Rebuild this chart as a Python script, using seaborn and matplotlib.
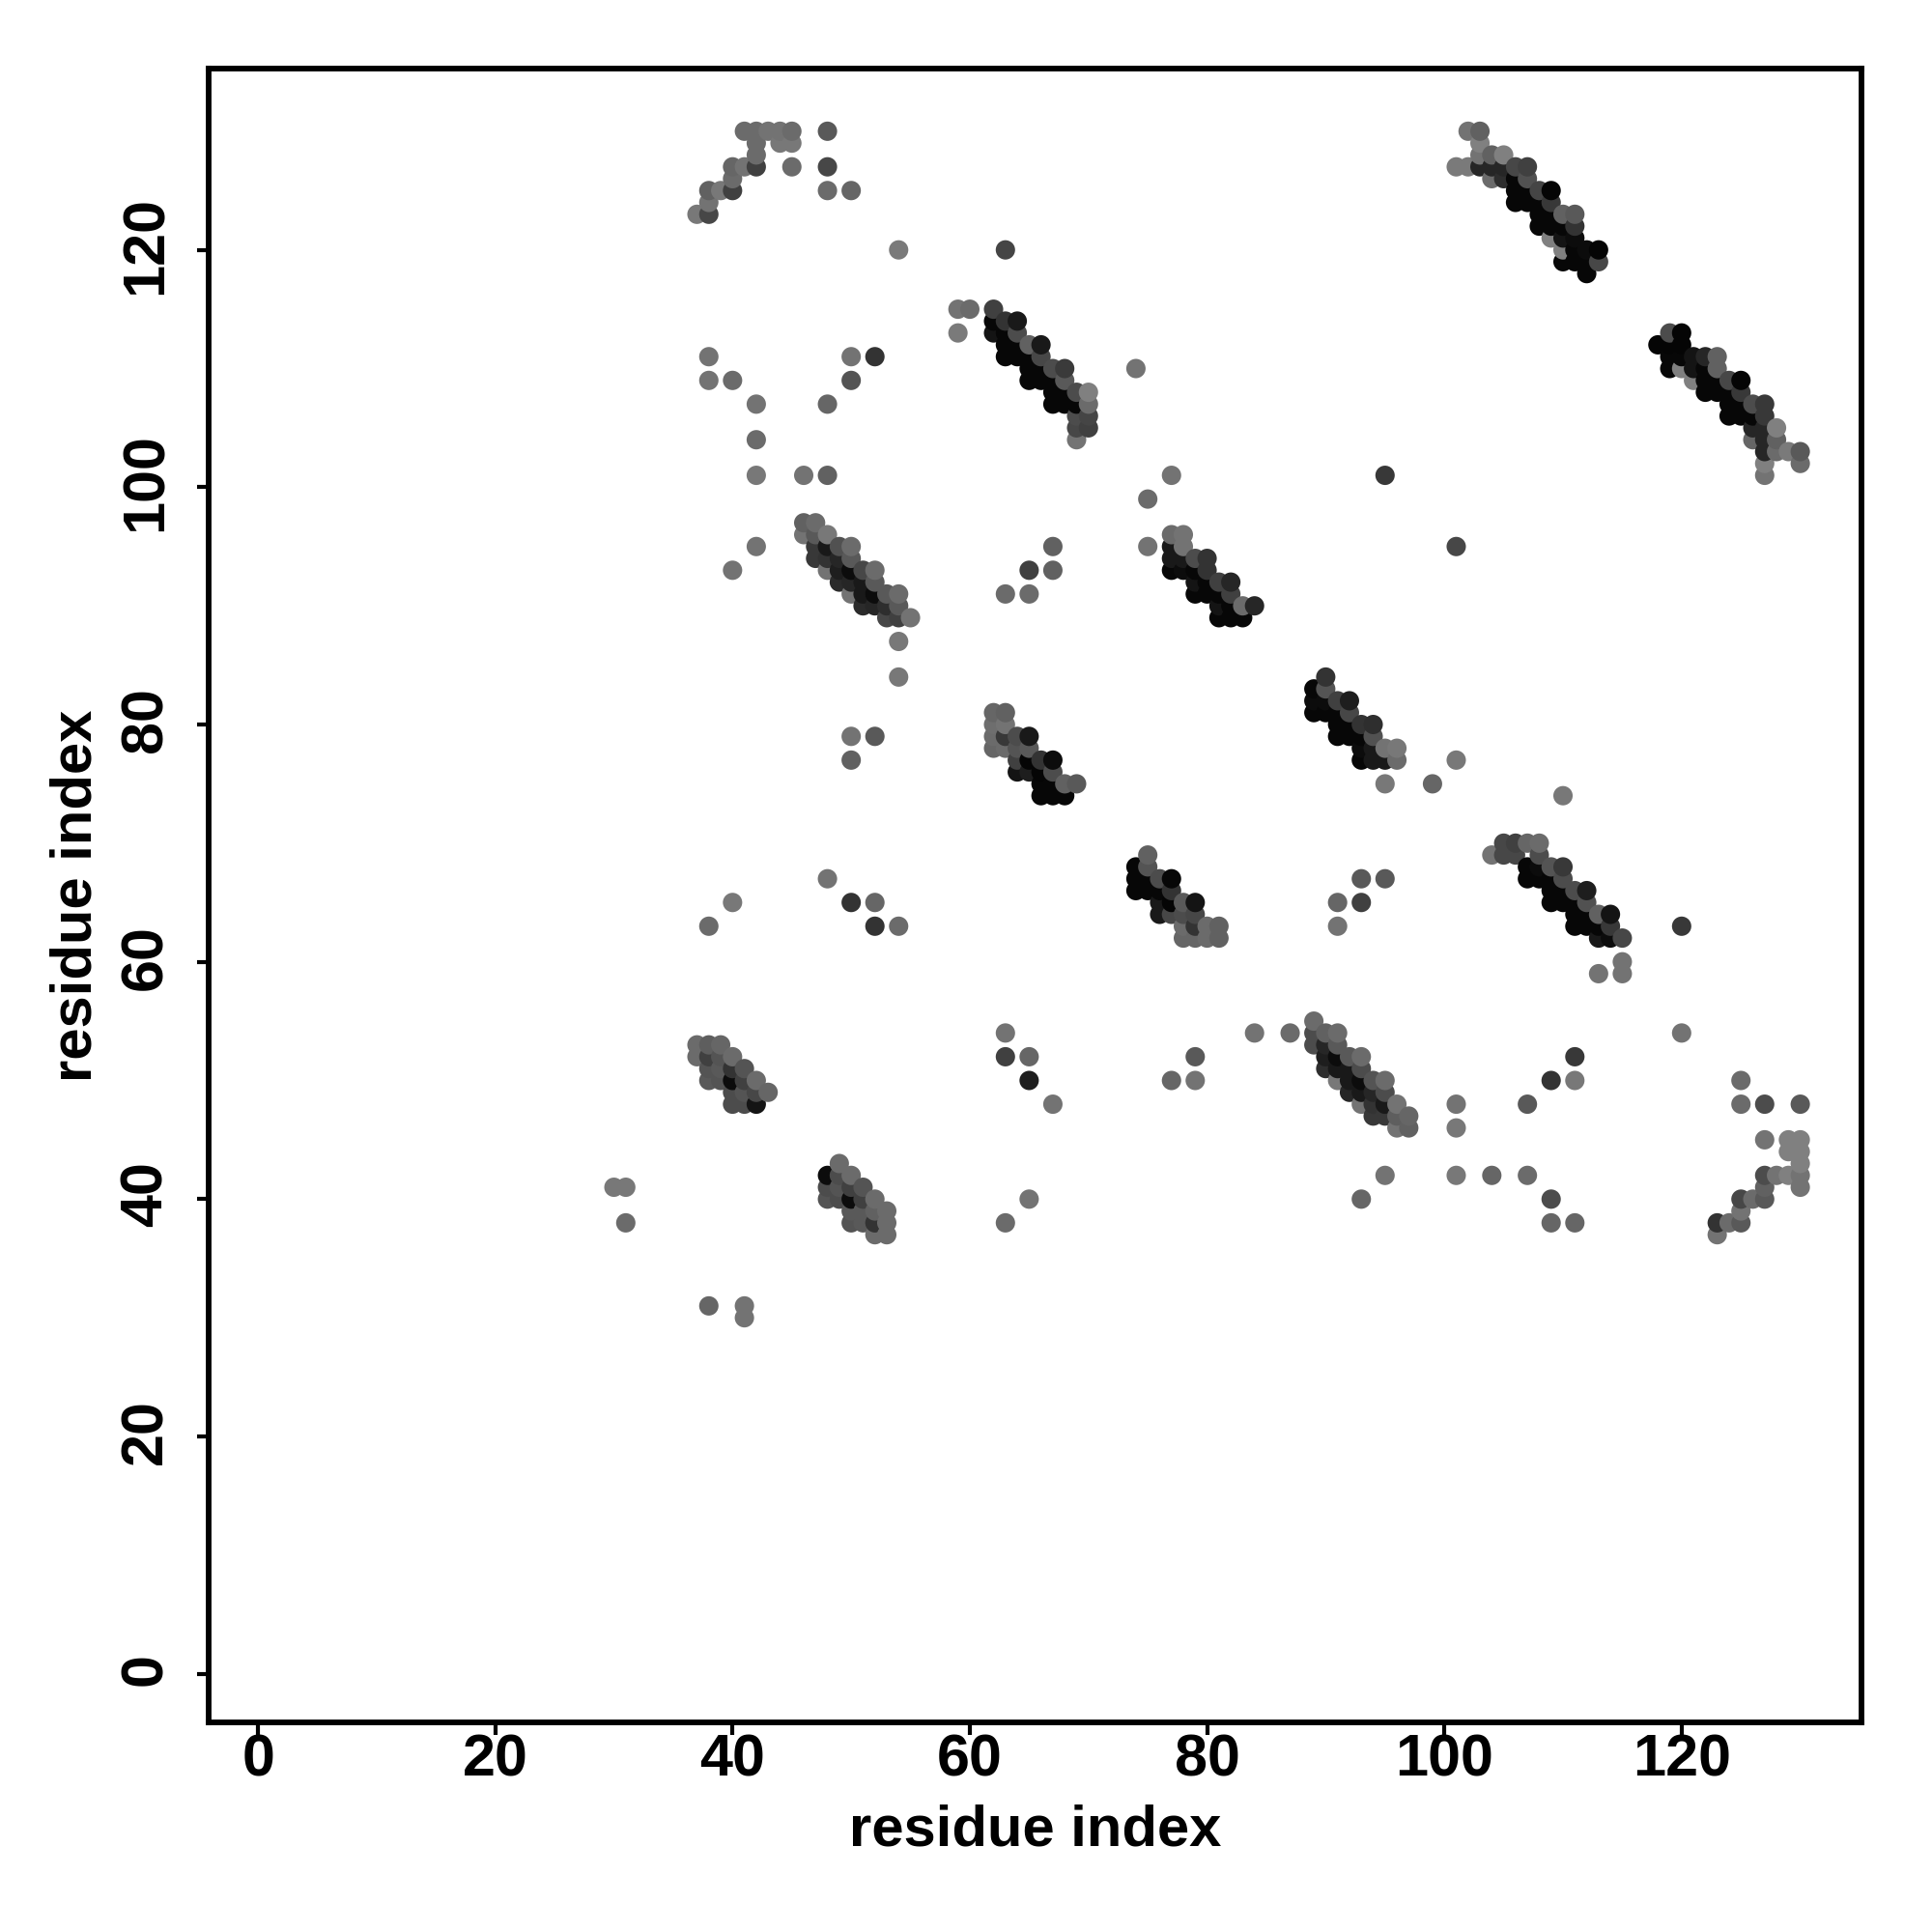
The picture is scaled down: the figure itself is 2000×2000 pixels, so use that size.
import pandas as pd
import matplotlib
matplotlib.use("Agg")
import matplotlib.pyplot as plt
from matplotlib.transforms import ScaledTranslation
import seaborn as sns

# contact map points, one line per row of the map (same layout in all three lists)
res_x = [
    102, 103,
    103,
    103, 104, 105,
    101, 102, 103, 104, 105, 106, 107,
    104, 105, 106, 107,
    106, 107, 108, 109,
    106, 107, 108, 109,
    108, 109, 110, 111,
    108, 109, 110, 111,
    109, 110, 111,
    110, 111, 112, 113,
    110, 111, 112, 113,
    112,
    119, 120,
    118, 119, 120,
    119, 120, 121, 122, 123,
    119, 120, 121, 122, 123,
    121, 122, 123, 124, 125,
    122, 123, 124, 125,
    124, 125, 126, 127,
    124, 125, 126, 127,
    126, 127, 128,
    126, 127, 128,
    127, 128, 129, 130,
    127, 130,
    127,
    59, 60, 62,
    62, 63, 64,
    59, 62, 63, 64,
    63, 64, 65, 66,
    63, 64, 65, 66,
    65, 66, 67, 68, 74,
    65, 66, 67, 68,
    67, 68, 69, 70,
    67, 68, 69, 70,
    69, 70,
    69, 70,
    69,
    41, 42, 43, 44, 45, 48,
    42, 44, 45,
    42,
    40, 41, 42, 45, 48,
    40,
    38, 39, 40, 48, 50,
    38,
    37, 38,
    54, 63, 38, 38, 40, 42, 50, 52, 50, 48, 42, 42, 46, 48, 42, 40,
    77, 75, 75, 95, 101, 67, 65, 67, 63, 65, 54, 54, 50, 52, 50,
    95, 99, 101, 110, 48, 40, 50, 52, 38, 52, 54,
    93, 95, 91, 93, 91, 120, 113, 115, 115,
    120, 84, 87, 63, 63, 65, 65, 67, 77, 79, 79,
    101, 101, 107, 109, 111, 111, 125, 125, 127, 130,
    127, 129, 130, 129, 130, 130, 127, 128, 129, 130, 127, 130,
    125, 126, 127, 125, 123, 124, 125, 123,
    93, 95, 101, 104, 107, 109, 109, 111, 65, 63,
    30, 31, 31, 38, 41, 41,
    46, 47,
    46, 47, 48,
    47, 48, 49, 50,
    47, 48, 49, 50,
    48, 49, 50, 51, 52,
    49, 50, 51, 52,
    50, 51, 52, 53, 54,
    51, 52, 53, 54,
    53, 54, 55,
    77, 78,
    77, 78,
    77, 78, 79, 80,
    77, 78, 79, 80,
    79, 80, 81, 82,
    79, 80, 81, 82,
    81, 82, 83, 84,
    81, 82, 83,
    90,
    89, 90,
    89, 90, 91, 92,
    89, 90, 91, 92,
    91, 92, 93, 94,
    91, 92, 93, 94,
    93, 94, 95, 96,
    93, 94, 95, 96,
    62, 63,
    62, 63,
    62, 63, 64, 65,
    62, 63, 64, 65,
    64, 65, 66, 67,
    64, 65, 66, 67,
    66, 67, 68, 69,
    66, 67, 68,
    75,
    74, 75,
    74, 75, 76, 77,
    74, 75, 76, 77,
    76, 77, 78, 79,
    76, 77, 78, 79,
    78, 79, 80, 81,
    78, 79, 80, 81,
    105, 106, 107, 108,
    104, 105, 106, 108,
    107, 108, 109, 110,
    107, 108, 109, 110,
    109, 110, 111, 112,
    109, 110, 111, 112,
    111, 112, 113, 114,
    111, 112, 113, 114,
    113, 114, 115,
    89,
    89, 90, 91,
    89, 90, 91,
    90, 91, 92, 93,
    90, 91, 92, 93,
    91, 92, 93, 94, 95,
    92, 93, 94, 95,
    93, 94, 95, 96,
    94, 95, 96, 97,
    96, 97,
    37, 38, 39,
    37, 38, 39, 40,
    38, 39, 40, 41,
    38, 39, 40, 41, 42,
    40, 41, 42, 43,
    40, 41, 42,
    49,
    48, 49, 50,
    48, 49, 50, 51,
    48, 49, 50, 51, 52,
    50, 51, 52, 53,
    50, 51, 52, 53,
    52, 53,
]
res_y = [
    130, 130,
    129,
    128, 128, 128,
    127, 127, 127, 127, 127, 127, 127,
    126, 126, 126, 126,
    125, 125, 125, 125,
    124, 124, 124, 124,
    123, 123, 123, 123,
    122, 122, 122, 122,
    121, 121, 121,
    120, 120, 120, 120,
    119, 119, 119, 119,
    118,
    113, 113,
    112, 112, 112,
    111, 111, 111, 111, 111,
    110, 110, 110, 110, 110,
    109, 109, 109, 109, 109,
    108, 108, 108, 108,
    107, 107, 107, 107,
    106, 106, 106, 106,
    105, 105, 105,
    104, 104, 104,
    103, 103, 103, 103,
    102, 102,
    101,
    115, 115, 115,
    114, 114, 114,
    113, 113, 113, 113,
    112, 112, 112, 112,
    111, 111, 111, 111,
    110, 110, 110, 110, 110,
    109, 109, 109, 109,
    108, 108, 108, 108,
    107, 107, 107, 107,
    106, 106,
    105, 105,
    104,
    130, 130, 130, 130, 130, 130,
    129, 129, 129,
    128,
    127, 127, 127, 127, 127,
    126,
    125, 125, 125, 125, 125,
    124,
    123, 123,
    120, 120, 111, 109, 109, 107, 111, 111, 109, 107, 104, 101, 101, 101, 95, 93,
    101, 99, 95, 101, 95, 95, 93, 93, 91, 91, 87, 84, 79, 79, 77,
    75, 75, 77, 74, 67, 65, 65, 65, 63, 63, 63,
    67, 67, 65, 65, 63, 63, 59, 60, 59,
    54, 54, 54, 54, 52, 52, 50, 48, 50, 52, 50,
    48, 46, 48, 50, 52, 50, 50, 48, 48, 48,
    45, 45, 45, 44, 44, 43, 42, 42, 42, 42, 41, 41,
    40, 40, 40, 39, 38, 38, 38, 37,
    40, 42, 42, 42, 42, 40, 38, 38, 40, 38,
    41, 41, 38, 31, 31, 30,
    97, 97,
    96, 96, 96,
    95, 95, 95, 95,
    94, 94, 94, 94,
    93, 93, 93, 93, 93,
    92, 92, 92, 92,
    91, 91, 91, 91, 91,
    90, 90, 90, 90,
    89, 89, 89,
    96, 96,
    95, 95,
    94, 94, 94, 94,
    93, 93, 93, 93,
    92, 92, 92, 92,
    91, 91, 91, 91,
    90, 90, 90, 90,
    89, 89, 89,
    84,
    83, 83,
    82, 82, 82, 82,
    81, 81, 81, 81,
    80, 80, 80, 80,
    79, 79, 79, 79,
    78, 78, 78, 78,
    77, 77, 77, 77,
    81, 81,
    80, 80,
    79, 79, 79, 79,
    78, 78, 78, 78,
    77, 77, 77, 77,
    76, 76, 76, 76,
    75, 75, 75, 75,
    74, 74, 74,
    69,
    68, 68,
    67, 67, 67, 67,
    66, 66, 66, 66,
    65, 65, 65, 65,
    64, 64, 64, 64,
    63, 63, 63, 63,
    62, 62, 62, 62,
    70, 70, 70, 70,
    69, 69, 69, 69,
    68, 68, 68, 68,
    67, 67, 67, 67,
    66, 66, 66, 66,
    65, 65, 65, 65,
    64, 64, 64, 64,
    63, 63, 63, 63,
    62, 62, 62,
    55,
    54, 54, 54,
    53, 53, 53,
    52, 52, 52, 52,
    51, 51, 51, 51,
    50, 50, 50, 50, 50,
    49, 49, 49, 49,
    48, 48, 48, 48,
    47, 47, 47, 47,
    46, 46,
    53, 53, 53,
    52, 52, 52, 52,
    51, 51, 51, 51,
    50, 50, 50, 50, 50,
    49, 49, 49, 49,
    48, 48, 48,
    43,
    42, 42, 42,
    41, 41, 41, 41,
    40, 40, 40, 40, 40,
    39, 39, 39, 39,
    38, 38, 38, 38,
    37, 37,
]
shade = [
    .45, .38,
    .50,
    .45, .38, .50,
    .48, .48, .15, .15, .15, .28, .25,
    .42, .18, .03, .32,
    .03, .03, .27, .02,
    .03, .03, .03, .22,
    .03, .03, .38, .35,
    .03, .03, .03, .20,
    .50, .08, .05,
    .50, .03, .05, .02,
    .03, .03, .03, .28,
    .03,
    .30, .02,
    .02, .02, .02,
    .03, .03, .08, .15, .38,
    .03, .50, .08, .03, .38,
    .50, .03, .03, .28, .02,
    .03, .03, .03, .22,
    .03, .03, .30, .22,
    .03, .03, .03, .22,
    .15, .15, .50,
    .40, .15, .38,
    .15, .42, .48, .35,
    .50, .42,
    .45,
    .45, .42, .25,
    .03, .20, .10,
    .48, .08, .03, .30,
    .03, .03, .38, .10,
    .03, .03, .03, .28,
    .03, .03, .30, .23, .45,
    .03, .03, .03, .35,
    .03, .03, .30, .50,
    .03, .03, .03, .42,
    .30, .27,
    .28, .25,
    .45,
    .42, .42, .45, .45, .42, .35,
    .42, .47, .47,
    .42,
    .40, .45, .25, .42, .28,
    .42,
    .38, .47, .25, .42, .40,
    .45,
    .47, .28,
    .48, .27, .45, .45, .42, .45, .45, .20, .33, .40, .42, .47, .45, .38, .45, .45,
    .45, .42, .45, .22, .28, .38, .25, .38, .42, .42, .47, .47, .45, .35, .38,
    .47, .40, .47, .47, .45, .47, .20, .40, .42, .20, .42,
    .35, .35, .40, .25, .45, .22, .45, .45, .45,
    .45, .45, .42, .45, .25, .40, .12, .45, .40, .35, .45,
    .45, .47, .35, .20, .22, .47, .42, .42, .30, .35,
    .45, .50, .50, .50, .50, .50, .30, .45, .50, .45, .38, .45,
    .28, .42, .35, .45, .20, .42, .35, .45,
    .40, .45, .47, .40, .42, .30, .40, .40, .45, .42,
    .47, .47, .42, .40, .45, .45,
    .38, .42,
    .45, .35, .47,
    .22, .10, .32, .42,
    .22, .20, .15, .35,
    .45, .12, .05, .28, .42,
    .17, .15, .10, .35,
    .45, .10, .05, .35, .42,
    .17, .15, .18, .35,
    .28, .25, .45,
    .42, .45,
    .10, .45,
    .10, .10, .30, .20,
    .03, .05, .03, .20,
    .08, .03, .25, .15,
    .03, .03, .03, .25,
    .08, .03, .42, .15,
    .03, .03, .03,
    .20,
    .03, .33,
    .05, .05, .25, .12,
    .03, .03, .03, .28,
    .03, .03, .20, .18,
    .03, .03, .03, .32,
    .05, .10, .45, .47,
    .03, .10, .10, .42,
    .40, .38,
    .43, .45,
    .42, .22, .30, .10,
    .40, .42, .33, .35,
    .25, .02, .20, .05,
    .08, .12, .02, .30,
    .03, .03, .38, .35,
    .03, .03, .03,
    .38,
    .03, .33,
    .03, .03, .30, .03,
    .03, .03, .03, .20,
    .10, .02, .35, .08,
    .10, .28, .30, .28,
    .42, .20, .42, .38,
    .40, .40, .42, .38,
    .28, .25, .40, .42,
    .45, .28, .28, .30,
    .03, .05, .33, .22,
    .03, .03, .03, .30,
    .03, .03, .30, .12,
    .03, .03, .03, .32,
    .03, .03, .38, .08,
    .03, .03, .03, .22,
    .10, .05, .28,
    .42,
    .30, .38, .42,
    .30, .15, .35,
    .12, .05, .35, .42,
    .18, .10, .10, .30,
    .47, .10, .05, .33, .42,
    .15, .10, .15, .30,
    .45, .20, .10, .45,
    .22, .22, .37, .40,
    .45, .38,
    .42, .37, .40,
    .42, .25, .33, .42,
    .33, .35, .20, .33,
    .35, .33, .05, .25, .42,
    .30, .33, .28, .40,
    .30, .30, .08,
    .42,
    .05, .30, .42,
    .30, .33, .25, .33,
    .33, .30, .05, .25, .42,
    .35, .35, .38, .42,
    .33, .35, .20, .42,
    .42, .42,
]
tick_values = [0, 20, 40, 60, 80, 100, 120]

sns.set_theme(style="white")
plt.rcParams["font.family"] = ["Liberation Sans", "DejaVu Sans"]
plt.rcParams["font.weight"] = "bold"

df = pd.DataFrame(dict(res_x=res_x, res_y=res_y, shade=shade))
# later rows sit on top, same order as the original map
df = df.sort_values(["res_x", "res_y"])

fig = plt.figure(figsize=(10, 10), dpi=200)
ax = fig.add_axes([0.108, 0.1085, 0.8555, 0.856])
sns.scatterplot(data=df, x="res_x", y="res_y", hue="shade", palette="gray",
                hue_norm=(0, 1), s=52, linewidth=0, legend=False, ax=ax)

ax.set_xlim(-4.16, 135.16)
ax.set_ylim(-4.1, 135.28)
ax.set_xticks(tick_values)
ax.set_yticks(tick_values)
ax.tick_params(axis="both", length=4.5, width=1.5, color="black", labelcolor="black",
               labelsize=22, bottom=True, left=True)
ax.tick_params(axis="x", pad=-0.4)
ax.tick_params(axis="y", pad=13)
plt.setp(ax.get_yticklabels(), rotation=90, rotation_mode="anchor", ha="center", va="baseline")
# rotated labels land a little low, nudge them back up to the ticks
nudge = ScaledTranslation(0, 1.8 / 72, fig.dpi_scale_trans)
for lab in ax.get_yticklabels():
    lab.set_transform(lab.get_transform() + nudge)
ax.set_xlabel("residue index", fontsize=21.5, fontweight="bold", color="black", labelpad=5.9)
ax.set_ylabel("residue index", fontsize=21.5, fontweight="bold", color="black", labelpad=6)
for s in ax.spines.values():
    s.set_linewidth(2.1)
    s.set_color("black")

fig.savefig("out.png", dpi=200)
